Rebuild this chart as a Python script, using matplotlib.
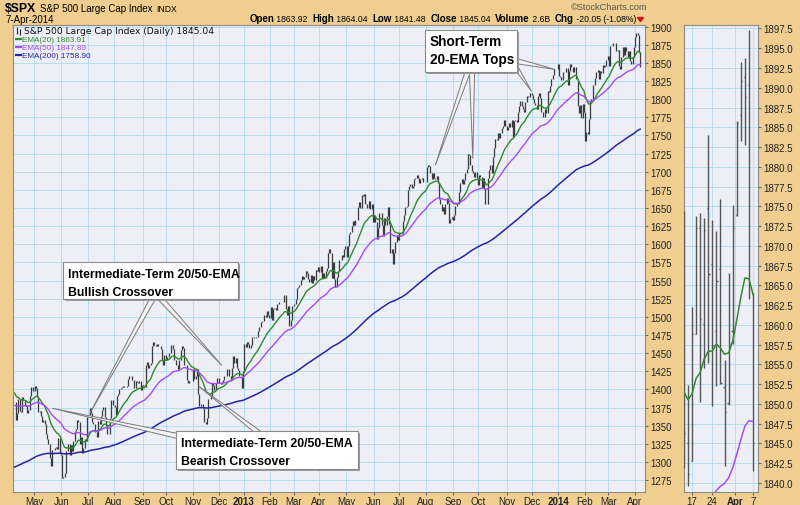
import numpy as np
import pandas as pd
import matplotlib
matplotlib.use("Agg")
import matplotlib.pyplot as plt
from matplotlib.collections import LineCollection
from matplotlib.patches import Polygon, Rectangle

# ---------------- data ----------------
start_date = "2012-04-09"
end_date = "2014-04-07"
market_holidays = ["2012-05-28", "2012-07-04", "2012-09-03", "2012-10-29", "2012-10-30",
                   "2012-11-22", "2012-12-25", "2013-01-01", "2013-01-21", "2013-02-18",
                   "2013-03-29", "2013-05-27", "2013-07-04", "2013-09-02", "2013-11-28",
                   "2013-12-25", "2014-01-01", "2014-01-20", "2014-02-17"]

close_2012 = [1382, 1358, 1368, 1387, 1370, 1369, 1390, 1385, 1377, 1379, 1367, 1372, 1391, 1403, 1403, 1398,
              1405, 1402, 1391, 1369, 1370, 1364, 1355, 1358, 1353, 1338, 1331, 1325, 1305, 1295, 1316, 1317, 1319, 1321, 1318, 1333, 1313, 1310,
              1278, 1279, 1285, 1315, 1315, 1325, 1309, 1324, 1315, 1329, 1343, 1345, 1358, 1355, 1325, 1335, 1313, 1319, 1331, 1329, 1362,
              1365, 1375, 1368, 1355, 1352, 1341, 1341, 1334, 1356, 1353, 1363, 1372, 1376, 1362, 1350, 1339, 1338, 1360, 1386, 1385, 1379,
              1376, 1365, 1391, 1394, 1401, 1402, 1403, 1405, 1404, 1403, 1405, 1415, 1418, 1418, 1413, 1413, 1402, 1411, 1410, 1409, 1411, 1399, 1406,
              1405, 1404, 1433, 1438, 1429, 1433, 1436, 1460, 1466, 1461, 1460, 1462, 1460, 1460, 1456, 1441, 1433, 1447, 1441,
              1444, 1445, 1450, 1461, 1461, 1456, 1441, 1433, 1433, 1428, 1440, 1455, 1460, 1457, 1433, 1434, 1413, 1409, 1412, 1411, 1412,
              1428, 1414, 1418, 1428, 1394, 1377, 1380, 1380, 1375, 1355, 1353, 1360, 1387, 1387, 1391, 1409, 1406, 1399, 1409, 1416, 1416,
              1409, 1407, 1410, 1413, 1418, 1419, 1428, 1428, 1419, 1414, 1430, 1446, 1436, 1443, 1430, 1427, 1419, 1418, 1402, 1426]
close_2013 = [1462, 1459, 1466, 1462, 1457, 1461, 1472, 1472, 1471, 1472, 1472, 1481, 1486, 1493, 1494, 1494, 1503, 1500, 1508, 1502, 1498,
              1513, 1495, 1511, 1512, 1510, 1518, 1518, 1520, 1521, 1521, 1520, 1530, 1511, 1502, 1515, 1488, 1496, 1515, 1515,
              1518, 1525, 1540, 1541, 1544, 1551, 1557, 1552, 1555, 1563, 1560, 1552, 1548, 1558, 1546, 1556, 1551, 1564, 1563, 1569,
              1562, 1570, 1554, 1560, 1553, 1563, 1568, 1588, 1593, 1588, 1553, 1575, 1552, 1541, 1555, 1563, 1578, 1578, 1585, 1582, 1593, 1598,
              1582, 1597, 1614, 1617, 1625, 1632, 1626, 1634, 1633, 1651, 1659, 1650, 1668, 1667, 1669, 1655, 1650, 1650, 1660, 1649, 1655, 1631,
              1640, 1631, 1608, 1623, 1643, 1643, 1627, 1612, 1636, 1626, 1639, 1651, 1628, 1588, 1593, 1573, 1588, 1603, 1613, 1606,
              1615, 1614, 1615, 1632, 1640, 1652, 1653, 1675, 1680, 1683, 1677, 1681, 1690, 1692, 1696, 1692, 1685, 1690, 1692, 1686, 1686, 1686,
              1706, 1710, 1708, 1698, 1690, 1698, 1691, 1690, 1694, 1685, 1662, 1656, 1646, 1652, 1642, 1656, 1664, 1657, 1630, 1635, 1638, 1633,
              1640, 1653, 1655, 1655, 1672, 1684, 1690, 1683, 1688, 1698, 1704, 1725, 1723, 1710, 1701, 1698, 1693, 1699, 1692, 1682,
              1695, 1693, 1678, 1691, 1676, 1656, 1656, 1692, 1703, 1710, 1698, 1721, 1733, 1745, 1744, 1754, 1746, 1753, 1760, 1763, 1772, 1763, 1757,
              1762, 1767, 1762, 1771, 1748, 1770, 1771, 1768, 1783, 1791, 1798, 1791, 1787, 1782, 1796, 1805, 1803, 1803, 1808, 1806,
              1800, 1795, 1792, 1786, 1805, 1808, 1802, 1782, 1775, 1775, 1786, 1781, 1811, 1810, 1818, 1828, 1833, 1842, 1841, 1841, 1848]
close_2014 = [1832, 1831, 1826, 1838, 1837, 1838, 1843, 1819, 1839, 1848, 1845, 1838, 1844, 1845, 1828, 1790, 1781, 1792, 1774, 1794, 1783,
              1742, 1755, 1752, 1773, 1797, 1800, 1820, 1819, 1829, 1838, 1840, 1828, 1839, 1836, 1847, 1845, 1846, 1854, 1859,
              1846, 1874, 1874, 1877, 1878, 1877, 1867, 1868, 1846, 1841, 1858, 1872, 1861, 1872, 1866, 1857, 1866, 1852, 1849, 1858, 1872,
              1886, 1891, 1889, 1865, 1845]

ema20_seed = 1395.0
ema50_seed = 1378.0
ema200_seed = 1293.0

zoom_dates = ["2014-03-13", "2014-03-14", "2014-03-17", "2014-03-18", "2014-03-19", "2014-03-20",
              "2014-03-21", "2014-03-24", "2014-03-25", "2014-03-26", "2014-03-27", "2014-03-28",
              "2014-03-31", "2014-04-01", "2014-04-02", "2014-04-03", "2014-04-04", "2014-04-07"]
zoom_open = [1869.1, 1845.1, 1842.8, 1858.9, 1872.3, 1860.1, 1874.8, 1867.7, 1859.2, 1867.1, 1852.1, 1850.1,
             1859.2, 1873.9, 1886.6, 1891.4, 1890.3, 1863.9]
zoom_high = [1874.4, 1852.4, 1862.3, 1873.8, 1874.1, 1873.5, 1884.0, 1873.3, 1871.9, 1875.9, 1855.6, 1866.6,
             1875.2, 1885.8, 1893.2, 1893.8, 1897.3, 1864.0]
zoom_low = [1841.9, 1839.6, 1842.8, 1858.9, 1850.2, 1854.6, 1855.2, 1849.7, 1852.3, 1852.5, 1842.1, 1849.9,
            1857.6, 1873.8, 1883.3, 1882.7, 1863.3, 1841.5]
zoom_close = [1846.3, 1841.1, 1858.8, 1872.3, 1860.8, 1872.0, 1866.5, 1857.4, 1865.6, 1852.6, 1849.0, 1857.6,
              1872.3, 1885.5, 1890.9, 1888.8, 1865.1, 1845.0]

# annotation pointer tips (date, price)
short_tips = [("2013-08-12", 1709), ("2013-09-24", 1718), ("2013-11-29", 1811), ("2013-12-27", 1841)]
bull_tips = [("2012-07-03", 1366), ("2012-12-05", 1433)]
bear_tips = [("2012-05-21", 1374), ("2012-11-07", 1405)]

# ---------------- derived ----------------
dates = pd.bdate_range(start_date, end_date)
dates = dates[~dates.isin(pd.to_datetime(market_holidays))]
closes = np.array(close_2012 + close_2013 + close_2014, dtype=float)
assert len(closes) == len(dates), (len(closes), len(dates))
n = len(closes)
idx = np.arange(n)


def ema(values, period, seed):
    k = 2.0 / (period + 1)
    out = np.empty_like(values)
    out[0] = seed
    for i in range(1, len(values)):
        out[i] = out[i - 1] + k * (values[i] - out[i - 1])
    return out


ema20 = ema(closes, 20, ema20_seed)
ema50 = ema(closes, 50, ema50_seed)
ema200 = ema(closes, 200, ema200_seed)


def didx(d):
    return dates.get_loc(pd.Timestamp(d))


W, H = 800, 506
BG = "#F0CE90"
PLOT_BG = "#EEEEF7"
GRID = "#ABDBEE"
C20 = "#2E8B2E"
C50 = "#A74BF0"
C200 = "#26269E"
FONT = "Liberation Sans"

fig = plt.figure(figsize=(W / 100, H / 100), dpi=100, facecolor=BG)


def fx(x):
    return x / W


def fy(y):
    return 1 - y / H


ax_top, ax_bot = 25.5, 492.7
ax = fig.add_axes([fx(13), fy(ax_bot), (645 - 13) / W, (ax_bot - ax_top) / H])
ax.set_facecolor(PLOT_BG)
ax.set_xlim(-1.3, 504.9)
ax.set_ylim(1259, 1903)

# month ticks
month_first = []
for i in range(1, n):
    if dates[i].month != dates[i - 1].month:
        month_first.append(i)
mpos = [i - 0.5 for i in month_first]
mlab = [str(dates[i].year) if dates[i].month == 1 else dates[i].strftime("%b") for i in month_first]
ax.set_xticks(mpos)
ax.set_xticklabels(mlab)
for lab, t in zip(ax.get_xticklabels(), mlab):
    lab.set_family(FONT)
    if t.isdigit():
        lab.set_fontweight("bold")
        lab.set_fontsize(7.8)
yt = np.arange(1275, 1901, 25)
ax.set_yticks(yt)
ax.set_yticklabels([str(v) for v in yt], family=FONT)
ax.yaxis.tick_right()
ax.tick_params(axis="both", labelsize=7, length=2.5, color="#666666", pad=1.2, labelcolor="#222222")
ax.tick_params(axis="x", pad=0.8)
ax.grid(True, color=GRID, lw=0.6)
ax.set_axisbelow(True)
for s in ax.spines.values():
    s.set_color("#8a8a8a")
    s.set_linewidth(0.8)

# price bars (previous close to close)
prev = np.concatenate([[closes[0]], closes[:-1]])
segs = [[(i, min(p, c)), (i, max(p, c))] for i, p, c in zip(idx, prev, closes)]
ax.add_collection(LineCollection(segs, colors="#3a3a3a", linewidths=0.9, zorder=3))
ax.plot(idx, ema20, color=C20, lw=1.0, zorder=4)
ax.plot(idx, ema50, color=C50, lw=1.0, zorder=4)
ax.plot(idx, ema200, color=C200, lw=1.1, zorder=4)

# ---------------- right zoom panel ----------------
ax2 = fig.add_axes([fx(684.3), fy(ax_bot), 74 / W, (ax_bot - ax_top) / H])
ax2.set_facecolor(PLOT_BG)
zi = np.array([didx(d) for d in zoom_dates])
ax2.set_xlim(zi[0] + 0.1, zi[-1] + 1.3)
ax2.set_ylim(1838.9, 1898.0)
zsegs = []
for i, o, h, l, c in zip(zi, zoom_open, zoom_high, zoom_low, zoom_close):
    zsegs.append([(i, l), (i, h)])
    zsegs.append([(i - 0.3, o), (i, o)])
    zsegs.append([(i, c), (i + 0.3, c)])
ax2.add_collection(LineCollection(zsegs, colors="#555555", linewidths=1.0, zorder=3))
ax2.plot(idx, ema20, color=C20, lw=1.1, zorder=4)
ax2.plot(idx, ema50, color=C50, lw=1.1, zorder=4)
ax2.plot(idx, ema200, color=C200, lw=1.1, zorder=4)
zt = np.arange(1840, 1898, 2.5)
ax2.set_yticks(zt)
ax2.set_yticklabels(["%.1f" % v for v in zt], family=FONT)
ax2.yaxis.tick_right()
xt_dates = ["2014-03-17", "2014-03-24", "2014-04-01", "2014-04-07"]
xt_pos = [didx(d) for d in xt_dates]
xt_pos[2] -= 0.5
ax2.set_xticks(xt_pos)
ax2.set_xticklabels(["17", "24", "Apr", "7"], family=FONT)
ax2.get_xticklabels()[2].set_fontweight("bold")
ax2.get_xticklabels()[2].set_fontsize(7.8)
ax2.tick_params(axis="both", labelsize=7, length=2.5, color="#666666", pad=1.2, labelcolor="#222222")
ax2.tick_params(axis="x", pad=0.8)
ax2.grid(True, color=GRID, lw=0.6)
ax2.set_axisbelow(True)
for s in ax2.spines.values():
    s.set_color("#8a8a8a")
    s.set_linewidth(0.8)

# ---------------- header ----------------
renderer = fig.canvas.get_renderer()
t = fig.text(fx(5), fy(12.5), "$SPX", fontsize=8.8, fontweight="bold", family=FONT, va="baseline")
hx = 5 + t.get_window_extent(renderer).width + 4
t = fig.text(fx(hx), fy(12.5), "S&P 500 Large Cap Index", fontsize=7, family=FONT, va="baseline")
hx += t.get_window_extent(renderer).width + 4
fig.text(fx(hx), fy(12.5), "INDX", fontsize=6.2, family=FONT, va="baseline")
fig.text(fx(5), fy(23), "7-Apr-2014", fontsize=7, family=FONT, va="baseline")
fig.text(fx(609), fy(10.5), "\u00a9StockCharts.com", fontsize=6.6, family=FONT, color="#555555",
         va="baseline", ha="center")

parts = [("Open", True), (" 1863.92  ", False), ("High", True), (" 1864.04  ", False), ("Low", True),
         (" 1841.48  ", False), ("Close", True), (" 1845.04  ", False), ("Volume", True), (" 2.6B  ", False),
         ("Chg", True), (" -20.05 (-1.08%)", False)]
htexts = []
for txt, bold in parts:
    htexts.append(fig.text(0, fy(22.5), txt, fontsize=7 if bold else 6.2, family=FONT,
                           fontweight="bold" if bold else "normal", va="baseline"))
widths = [tt.get_window_extent(renderer).width for tt in htexts]
hx = 636 - sum(widths)
for tt, w in zip(htexts, widths):
    tt.set_x(fx(hx))
    hx += w
fig.add_artist(Polygon([[fx(hx + 1.5), fy(18.5)], [fx(hx + 7.5), fy(18.5)], [fx(hx + 4.5), fy(22.5)]],
                       closed=True, transform=fig.transFigure, color="#CC1020", zorder=5))

# legend
fig.add_artist(Polygon([[fx(17), fy(28)], [fx(17), fy(34.5)]], closed=False, fill=False,
                       transform=fig.transFigure, color="#222222", lw=0.8, zorder=5))
fig.add_artist(Polygon([[fx(20), fy(29.5)], [fx(20), fy(35.5)]], closed=False, fill=False,
                       transform=fig.transFigure, color="#222222", lw=0.8, zorder=5))
fig.text(fx(24), fy(34.5), "S&P 500 Large Cap Index (Daily) 1845.04", fontsize=6.6, family="DejaVu Sans",
         va="baseline", color="#111111")
for yb, lab, col in [(42.5, "EMA(20) 1863.91", C20), (50.2, "EMA(50) 1847.89", C50), (58, "EMA(200) 1758.90", C200)]:
    fig.add_artist(Polygon([[fx(15), fy(yb - 2.5)], [fx(22), fy(yb - 2.5)]], closed=False, fill=False,
                           transform=fig.transFigure, color=col, lw=1.6, zorder=5))
    fig.text(fx(22.5), fy(yb), lab, fontsize=5.9, family=FONT, va="baseline", color=col)


# ---------------- callouts ----------------
def tip_px(d, price, axis=ax):
    X, Y = axis.transData.transform((didx(d), price))
    return X, H - Y


def pointer(base, tip, w=2.6):
    bx, by = base
    tx, ty = tip
    dx, dy = tx - bx, ty - by
    L = np.hypot(dx, dy)
    nx, ny = -dy / L * w, dx / L * w
    pts = [[fx(bx + nx), fy(by + ny)], [fx(tx), fy(ty)], [fx(bx - nx), fy(by - ny)]]
    fig.add_artist(Polygon(pts, closed=True, transform=fig.transFigure, facecolor="#F2F2F2",
                           edgecolor="#7a7a7a", lw=0.7, zorder=6))


def box(x0, y0, x1, y1, lines, fs):
    fig.add_artist(Rectangle((fx(x0 + 2), fy(y1 + 2)), (x1 - x0) / W, (y1 - y0) / H, transform=fig.transFigure,
                             facecolor="#9a9a9a", edgecolor="none", zorder=7))
    fig.add_artist(Rectangle((fx(x0), fy(y1)), (x1 - x0) / W, (y1 - y0) / H, transform=fig.transFigure,
                             facecolor="white", edgecolor="#8a8a8a", lw=0.8, zorder=8))
    for k, ln in enumerate(lines):
        fig.text(fx(x0 + 5), fy(y0 + 15 + 18 * k), ln, fontsize=fs, fontweight="bold",
                 family=FONT, va="baseline", color="black", zorder=9)


fig.canvas.draw()
for (d, p), base in zip(short_tips, [(468, 72), (472, 72), (513, 64), (516, 62)]):
    pointer(base, tip_px(d, p))
box(425, 31, 517, 73, ["Short-Term", "20-EMA Tops"], 9.8)
for (d, p), base in zip(bull_tips, [(153, 299), (160, 299)]):
    pointer(base, tip_px(d, p))
box(63, 263, 238, 300, ["Intermediate-Term 20/50-EMA", "Bullish Crossover"], 8.8)
for (d, p), base in zip(bear_tips, [(182, 438), (264, 438)]):
    pointer(base, tip_px(d, p))
box(176, 432, 358, 470, ["Intermediate-Term 20/50-EMA", "Bearish Crossover"], 8.8)

fig.savefig("out.png", dpi=100, facecolor=BG)
